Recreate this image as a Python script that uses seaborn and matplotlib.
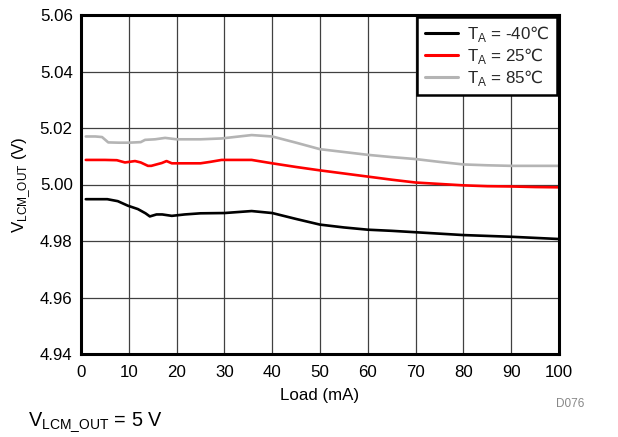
import numpy as np
import pandas as pd
import seaborn as sns
import matplotlib
matplotlib.use("Agg")
import matplotlib.pyplot as plt

# Output common-mode voltage vs. load current at three ambient temperatures
load_cold = [1, 3, 5.5, 7.7, 9.8, 11.9, 13.5, 14.4, 15.8, 17, 19, 21.7, 25, 30, 35.7, 40, 45, 50, 55, 60, 65, 70, 75, 80, 85, 90, 95, 100]
vout_cold = [4.9948, 4.9948, 4.9948, 4.9941, 4.9925, 4.9913, 4.9898, 4.9887, 4.9894, 4.9894, 4.9889, 4.9894, 4.9898, 4.9899, 4.9906, 4.9899, 4.9878, 4.9858, 4.9848, 4.9840, 4.9836, 4.9831, 4.9826, 4.9821, 4.9818, 4.9815, 4.9811, 4.9807]

load_room = [1, 3, 5, 7.5, 9.2, 11.3, 12.5, 14, 14.7, 16, 16.9, 17.9, 19, 22, 25, 27, 29.4, 35.7, 40, 45, 50, 55, 60, 65, 70, 75, 80, 85, 90, 95, 100]
vout_room = [5.0087, 5.0087, 5.0087, 5.0086, 5.0078, 5.0083, 5.0078, 5.0066, 5.0066, 5.0072, 5.0076, 5.0083, 5.0075, 5.0075, 5.0075, 5.0080, 5.0087, 5.0087, 5.0075, 5.0062, 5.0050, 5.0039, 5.0028, 5.0017, 5.0007, 5.0002, 4.9997, 4.9994, 4.9993, 4.9991, 4.9990]

load_hot = [1, 3, 4.4, 5.7, 8, 10, 12.5, 13.4, 15.5, 17.6, 20, 25, 29.4, 35.7, 40, 45, 50, 55, 60, 65, 70, 75, 80, 85, 90, 95, 100]
vout_hot = [5.0170, 5.0170, 5.0168, 5.0149, 5.0148, 5.0148, 5.0150, 5.0158, 5.0160, 5.0165, 5.0160, 5.0160, 5.0163, 5.0175, 5.0170, 5.0148, 5.0125, 5.0115, 5.0105, 5.0097, 5.0090, 5.0080, 5.0071, 5.0068, 5.0066, 5.0066, 5.0066]

# the degree-Celsius sign is set in the sans-serif math slot (DejaVu Sans has the glyph)
series_names = ["T$_{\\mathrm{A}}$ = -40$\\mathsf{\u2103}$",
                "T$_{\\mathrm{A}}$ = 25$\\mathsf{\u2103}$",
                "T$_{\\mathrm{A}}$ = 85$\\mathsf{\u2103}$"]
series_colors = ["#000000", "#ff0000", "#b4b4b4"]

x_ticks = [0, 10, 20, 30, 40, 50, 60, 70, 80, 90, 100]
y_ticks = [4.94, 4.96, 4.98, 5.00, 5.02, 5.04, 5.06]

frames = []
for name, xs, ys in zip(series_names, [load_cold, load_room, load_hot], [vout_cold, vout_room, vout_hot]):
    frames.append(pd.DataFrame({"load": xs, "vout": ys, "series": name}))
df = pd.concat(frames, ignore_index=True)

sns.set_theme(style="white")
plt.rcParams["font.family"] = ["Liberation Sans", "DejaVu Sans"]
plt.rcParams["mathtext.fontset"] = "custom"
plt.rcParams["mathtext.rm"] = "Liberation Sans"
plt.rcParams["mathtext.sf"] = "DejaVu Sans"

FS = 12.2

fig = plt.figure(figsize=(6.18, 4.37), dpi=100)
ax = fig.add_axes([81 / 618, 1 - 354 / 437, (559 - 81) / 618, (354 - 15) / 437])

sns.lineplot(data=df, x="load", y="vout", hue="series", hue_order=series_names,
             palette=series_colors, linewidth=1.9, ax=ax, sort=True, estimator=None)

ax.set_xlim(0, 100)
ax.set_ylim(4.94, 5.06)
ax.set_xticks(x_ticks)
ax.set_yticks(y_ticks)
ax.set_xticklabels([str(t) for t in x_ticks])
ax.set_yticklabels([f"{t:.2f}" for t in y_ticks])
ax.tick_params(axis="x", length=0, labelsize=FS, colors="black", pad=8)
ax.tick_params(axis="y", length=0, labelsize=FS, colors="black", pad=6)
ax.grid(True, color="#404040", linewidth=0.9)
for s in ax.spines.values():
    s.set_color("black")
    s.set_linewidth(2.2)

ax.set_xlabel("Load (mA)", fontsize=FS, labelpad=6, color="black")
ax.set_ylabel("V$_{\\mathrm{LCM\\_OUT}}$ (V)", fontsize=FS, labelpad=5, color="black")

leg = ax.legend(loc="upper right", fontsize=FS, frameon=True, fancybox=False,
                borderaxespad=0.1, handlelength=1.95, handletextpad=0.55,
                labelspacing=0.1, borderpad=0.45)
leg.get_frame().set_edgecolor("black")
leg.get_frame().set_linewidth(1.8)
leg.get_frame().set_alpha(1)
for line in leg.get_lines():
    line.set_linewidth(2.2)

fig.text(570 / 618, 1 - 404 / 437, "D076", fontsize=8.5, color="#888888", ha="center", va="center")
fig.text(28 / 618, 1 - 426 / 437, "V$_{\\mathrm{LCM\\_OUT}}$ = 5 V", fontsize=14.3, color="black", ha="left", va="baseline")

fig.savefig("out.png", dpi=100)
